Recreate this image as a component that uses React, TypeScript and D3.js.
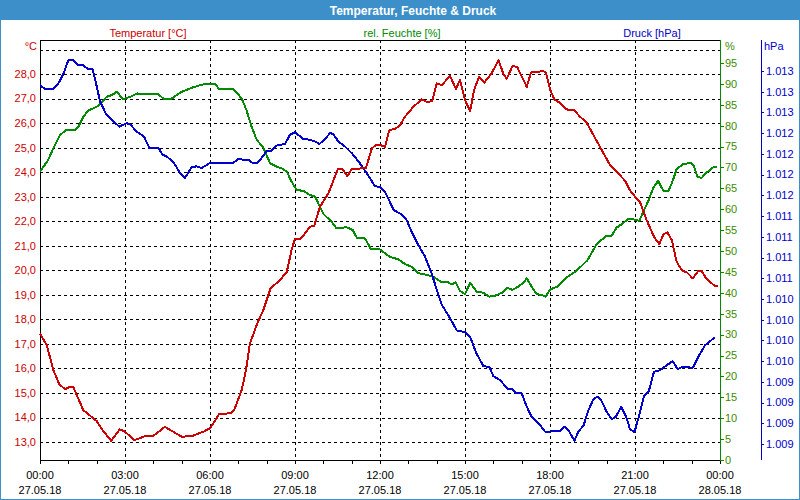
import React, { useEffect, useRef } from 'react';
import * as d3 from 'd3';

const width = 800;
const height = 500;

// Temperatur [°C]
const tempHours = [0, 0.24, 0.47, 0.68, 0.88, 1.06, 1.18, 1.53, 2.0, 2.18, 2.51, 2.82, 3.0, 3.33, 3.71, 4.0, 4.41, 5.0, 5.35, 5.76, 6.0, 6.33, 6.71, 6.85, 7.12, 7.27, 7.41, 7.67, 7.88, 8.14, 8.47, 8.71, 8.88, 9.0, 9.2, 9.53, 9.68, 9.88, 10.18, 10.51, 10.68, 10.85, 11.0, 11.5, 11.71, 11.86, 12.0, 12.18, 12.33, 12.53, 12.71, 12.88, 13.18, 13.47, 13.67, 13.85, 14.0, 14.18, 14.47, 14.68, 14.82, 15.0, 15.18, 15.32, 15.5, 15.68, 15.94, 16.18, 16.35, 16.47, 16.68, 16.85, 17.18, 17.33, 17.76, 17.86, 18.0, 18.15, 18.35, 18.59, 18.85, 19.06, 19.27, 19.47, 19.76, 20.12, 20.41, 20.65, 20.82, 21.0, 21.18, 21.41, 21.67, 21.86, 22.0, 22.14, 22.3, 22.47, 22.65, 22.85, 23.04, 23.24, 23.35, 23.51, 23.82, 23.94];
const tempValues = [17.43, 16.95, 15.94, 15.36, 15.16, 15.25, 15.23, 14.3, 13.86, 13.53, 13.05, 13.52, 13.42, 13.08, 13.24, 13.26, 13.62, 13.22, 13.24, 13.42, 13.56, 14.15, 14.17, 14.3, 15.12, 15.94, 17.02, 17.84, 18.38, 19.27, 19.6, 19.94, 20.83, 21.3, 21.28, 21.78, 21.82, 22.59, 23.14, 24.12, 24.12, 23.84, 24.14, 24.16, 24.97, 25.11, 25.11, 25.04, 25.72, 25.76, 25.92, 26.26, 26.67, 26.97, 26.85, 26.91, 27.62, 27.55, 27.93, 27.39, 27.76, 26.94, 26.49, 27.35, 27.89, 27.65, 28.03, 28.57, 28.03, 27.8, 28.34, 28.27, 27.48, 28.07, 28.12, 28.06, 27.38, 26.97, 26.83, 26.56, 26.53, 26.26, 26.06, 25.65, 25.04, 24.29, 23.95, 23.65, 23.27, 23.0, 22.77, 22.05, 21.37, 21.07, 21.47, 21.55, 21.23, 20.35, 20.01, 19.9, 19.67, 19.98, 19.98, 19.67, 19.36, 19.36];

// rel. Feuchte [%]
const humHours = [0, 0.29, 0.47, 0.71, 0.92, 1.24, 1.35, 1.53, 1.7, 2.0, 2.18, 2.35, 2.53, 2.71, 2.94, 3.18, 3.43, 3.71, 4.18, 4.35, 4.65, 5.0, 5.41, 5.82, 6.18, 6.33, 6.82, 7.12, 7.29, 7.47, 7.65, 7.88, 8.12, 8.35, 8.53, 8.71, 8.88, 9.06, 9.29, 9.53, 9.71, 10.0, 10.29, 10.47, 10.82, 11.04, 11.18, 11.47, 11.67, 12.0, 12.35, 12.65, 12.88, 13.12, 13.35, 13.59, 13.88, 14.14, 14.35, 14.53, 14.67, 14.82, 15.0, 15.18, 15.41, 15.65, 15.86, 16.02, 16.3, 16.49, 16.67, 16.88, 17.06, 17.18, 17.35, 17.53, 17.71, 17.85, 18.0, 18.29, 18.59, 18.94, 19.32, 19.65, 20.0, 20.18, 20.35, 20.57, 20.76, 20.94, 21.15, 21.29, 21.47, 21.65, 21.82, 22.0, 22.18, 22.3, 22.47, 22.7, 22.97, 23.06, 23.2, 23.35, 23.53, 23.76, 23.88];
const humValues = [69.0, 71.8, 74.6, 77.8, 78.9, 78.9, 79.7, 82.1, 83.6, 84.5, 85.5, 86.9, 87.3, 88.1, 86.3, 86.9, 87.7, 87.6, 87.5, 86.5, 86.5, 88.1, 89.2, 90.0, 90.0, 88.7, 88.8, 86.5, 83.7, 79.7, 76.6, 74.8, 71.0, 70.2, 69.8, 69.0, 66.6, 64.6, 64.4, 63.4, 63.0, 58.9, 57.0, 55.4, 55.7, 55.0, 53.2, 53.0, 50.6, 50.4, 48.6, 48.0, 46.9, 46.2, 44.7, 44.4, 43.9, 42.7, 42.7, 42.0, 42.5, 40.5, 39.7, 42.4, 40.3, 40.0, 39.1, 39.2, 40.0, 41.2, 40.7, 41.5, 42.4, 43.5, 41.5, 39.7, 39.5, 39.1, 40.8, 41.6, 43.7, 45.3, 47.8, 51.7, 53.7, 53.7, 55.6, 56.6, 57.7, 57.6, 57.2, 59.4, 62.0, 65.2, 66.8, 64.4, 64.4, 66.2, 69.6, 70.8, 71.1, 70.6, 67.8, 67.5, 68.8, 70.0, 70.0];

// Druck [hPa]
const pressHours = [0, 0.18, 0.47, 0.65, 0.82, 1.0, 1.18, 1.33, 1.53, 1.7, 1.86, 1.98, 2.12, 2.35, 2.59, 2.8, 3.06, 3.2, 3.41, 3.67, 3.86, 4.18, 4.33, 4.47, 4.73, 4.94, 5.12, 5.35, 5.53, 5.71, 6.0, 6.82, 7.0, 7.18, 7.35, 7.51, 7.67, 7.82, 8.02, 8.18, 8.35, 8.65, 8.82, 9.0, 9.29, 9.53, 9.71, 9.86, 10.0, 10.24, 10.35, 10.53, 10.76, 11.0, 11.24, 11.53, 11.82, 12.0, 12.18, 12.49, 12.77, 12.94, 13.12, 13.35, 13.59, 13.82, 14.06, 14.18, 14.47, 14.71, 15.0, 15.18, 15.41, 15.65, 15.86, 16.0, 16.24, 16.49, 16.67, 16.82, 17.0, 17.18, 17.35, 17.65, 17.82, 18.0, 18.35, 18.5, 18.68, 18.86, 19.0, 19.18, 19.35, 19.53, 19.67, 19.8, 20.0, 20.18, 20.33, 20.51, 20.71, 20.82, 20.98, 21.15, 21.32, 21.49, 21.67, 21.88, 22.12, 22.33, 22.51, 22.65, 23.04, 23.23, 23.47, 23.65, 23.82];
const pressValues = [1012.83, 1012.78, 1012.78, 1012.85, 1012.96, 1013.13, 1013.13, 1013.07, 1013.07, 1013.02, 1013.02, 1012.85, 1012.63, 1012.47, 1012.39, 1012.33, 1012.37, 1012.35, 1012.27, 1012.21, 1012.07, 1012.07, 1011.99, 1011.97, 1011.89, 1011.77, 1011.71, 1011.84, 1011.85, 1011.83, 1011.89, 1011.89, 1011.94, 1011.93, 1011.93, 1011.89, 1011.89, 1011.95, 1012.04, 1012.04, 1012.1, 1012.12, 1012.23, 1012.26, 1012.18, 1012.17, 1012.15, 1012.12, 1012.16, 1012.25, 1012.24, 1012.15, 1012.09, 1012.01, 1011.91, 1011.77, 1011.61, 1011.6, 1011.54, 1011.32, 1011.27, 1011.2, 1011.06, 1010.9, 1010.76, 1010.56, 1010.3, 1010.18, 1010.02, 1009.87, 1009.85, 1009.79, 1009.59, 1009.44, 1009.43, 1009.32, 1009.27, 1009.17, 1009.16, 1009.11, 1009.11, 1008.95, 1008.83, 1008.73, 1008.65, 1008.65, 1008.66, 1008.71, 1008.65, 1008.54, 1008.65, 1008.72, 1008.9, 1009.04, 1009.07, 1009.03, 1008.89, 1008.8, 1008.83, 1008.95, 1008.81, 1008.68, 1008.64, 1008.85, 1009.08, 1009.14, 1009.37, 1009.39, 1009.45, 1009.5, 1009.4, 1009.43, 1009.42, 1009.55, 1009.69, 1009.74, 1009.79];

// axes
const timeTicks = [0, 3, 6, 9, 12, 15, 18, 21, 24];
const timeLabels = ['00:00', '03:00', '06:00', '09:00', '12:00', '15:00', '18:00', '21:00', '00:00'];
const dateLabels = ['27.05.18', '27.05.18', '27.05.18', '27.05.18', '27.05.18', '27.05.18', '27.05.18', '27.05.18', '28.05.18'];
const tempTicks = [13, 14, 15, 16, 17, 18, 19, 20, 21, 22, 23, 24, 25, 26, 27, 28];
const humTicks = [0, 5, 10, 15, 20, 25, 30, 35, 40, 45, 50, 55, 60, 65, 70, 75, 80, 85, 90, 95];
const pressTicks = [1008.5, 1008.75, 1009, 1009.25, 1009.5, 1009.75, 1010, 1010.25, 1010.5, 1010.75, 1011, 1011.25, 1011.5, 1011.75, 1012, 1012.25, 1012.5, 1012.75, 1013];

const de = d3.formatLocale({ decimal: ',', thousands: '.', grouping: [3], currency: ['', ' €'] });

const RED = '#cc0000';
const GREEN = '#008a00';
const GREEN_TXT = '#3c8c00';
const BLUE = '#0000cc';
const FRAME = '#3d8fc9';
const FONT = '"Liberation Sans", Arial, sans-serif';

export default function App() {
  const ref = useRef<SVGSVGElement>(null);

  useEffect(() => {
    document.body.style.margin = '0';
    const svg = d3.select(ref.current);
    svg.selectAll('*').remove();

    const left = 40, right = 720, top = 40, bottom = 460;

    const x = d3.scaleLinear().domain([0, 24]).range([left, right]);
    const yTemp = d3.scaleLinear().domain([12.27, 29.39]).range([bottom, top]);
    const yHum = d3.scaleLinear().domain([0, 100.5]).range([bottom, top]);
    const yPress = d3.scaleLinear().domain([1008.307, 1013.374]).range([bottom, top]);

    // frame + title bar
    svg.append('rect').attr('width', width).attr('height', height).attr('fill', '#fff');
    svg.append('rect').attr('x', 0.5).attr('y', 0.5).attr('width', width - 1).attr('height', height - 1)
      .attr('fill', 'none').attr('stroke', FRAME);
    svg.append('rect').attr('width', width).attr('height', 20).attr('fill', FRAME);
    svg.append('text').attr('x', 413).attr('y', 14.5).attr('text-anchor', 'middle')
      .attr('fill', '#fff').attr('font-weight', 'bold').attr('font-size', 12)
      .text('Temperatur, Feuchte & Druck');

    // series headers
    const headers = [
      { t: 'Temperatur [°C]', x: 148, c: RED },
      { t: 'rel. Feuchte [%]', x: 402, c: GREEN },
      { t: 'Druck [hPa]', x: 652, c: BLUE },
    ];
    svg.selectAll('text.hdr').data(headers).enter().append('text')
      .attr('class', 'hdr')
      .attr('x', d => d.x).attr('y', 36.5).attr('text-anchor', 'middle')
      .attr('fill', d => d.c).attr('font-size', 11).text(d => d.t);

    svg.append('text').attr('x', 37).attr('y', 50).attr('text-anchor', 'end').attr('fill', RED).attr('font-size', 11).text('°C');
    svg.append('text').attr('x', 725).attr('y', 50).attr('fill', GREEN_TXT).attr('font-size', 11).text('%');
    svg.append('text').attr('x', 764).attr('y', 50).attr('fill', BLUE).attr('font-size', 11).text('hPa');

    // grid
    const grid = svg.append('g').attr('stroke', '#000').attr('stroke-dasharray', '3,3').attr('shape-rendering', 'crispEdges');
    grid.selectAll('line.h').data(d3.range(13, 30)).enter().append('line')
      .attr('x1', left).attr('x2', right)
      .attr('y1', d => Math.round(yTemp(d)) + 0.5).attr('y2', d => Math.round(yTemp(d)) + 0.5);
    grid.selectAll('line.v').data(timeTicks.slice(1, -1)).enter().append('line')
      .attr('y1', top).attr('y2', bottom)
      .attr('x1', d => Math.round(x(d)) + 0.5).attr('x2', d => Math.round(x(d)) + 0.5);

    // axis lines
    const axes = svg.append('g').attr('shape-rendering', 'crispEdges');
    axes.append('line').attr('x1', left).attr('x2', right).attr('y1', top + 0.5).attr('y2', top + 0.5).attr('stroke', '#000');
    axes.append('line').attr('x1', left).attr('x2', right).attr('y1', bottom + 0.5).attr('y2', bottom + 0.5).attr('stroke', '#000');
    axes.append('line').attr('x1', left + 0.5).attr('x2', left + 0.5).attr('y1', top).attr('y2', bottom + 4).attr('stroke', '#000');
    axes.append('line').attr('x1', right + 0.5).attr('x2', right + 0.5).attr('y1', top).attr('y2', bottom + 1).attr('stroke', GREEN);
    axes.append('line').attr('x1', 761.5).attr('x2', 761.5).attr('y1', top).attr('y2', bottom).attr('stroke', BLUE);

    // x axis: hourly ticks
    axes.selectAll('line.xt').data(d3.range(0, 25)).enter().append('line')
      .attr('x1', d => Math.round(x(d)) + 0.5).attr('x2', d => Math.round(x(d)) + 0.5)
      .attr('y1', bottom).attr('y2', bottom + 4).attr('stroke', '#000');
    svg.selectAll('text.xl').data(timeTicks).enter().append('text')
      .attr('x', d => x(d)).attr('y', 479).attr('text-anchor', 'middle').attr('font-size', 11)
      .text((d, i) => timeLabels[i]);
    svg.selectAll('text.xd').data(timeTicks).enter().append('text')
      .attr('x', d => x(d)).attr('y', 494).attr('text-anchor', 'middle').attr('font-size', 11)
      .text((d, i) => dateLabels[i]);

    // left temp labels
    svg.selectAll('text.tl').data(tempTicks).enter().append('text')
      .attr('x', 36).attr('y', d => yTemp(d)).attr('dy', '0.35em').attr('text-anchor', 'end')
      .attr('fill', RED).attr('font-size', 11).text(d => de.format('.1f')(d));

    // humidity axis
    axes.selectAll('line.ht').data(humTicks).enter().append('line')
      .attr('x1', right).attr('x2', right + 4)
      .attr('y1', d => Math.round(yHum(d)) + 0.5).attr('y2', d => Math.round(yHum(d)) + 0.5).attr('stroke', GREEN);
    svg.selectAll('text.hl').data(humTicks).enter().append('text')
      .attr('x', 725).attr('y', d => yHum(d)).attr('dy', '0.35em')
      .attr('fill', GREEN_TXT).attr('font-size', 11).text(d => d);

    // pressure axis
    axes.selectAll('line.pt').data(pressTicks).enter().append('line')
      .attr('x1', 761).attr('x2', 764)
      .attr('y1', d => Math.round(yPress(d)) + 0.5).attr('y2', d => Math.round(yPress(d)) + 0.5).attr('stroke', BLUE);
    svg.selectAll('text.pl').data(pressTicks).enter().append('text')
      .attr('x', 766).attr('y', d => yPress(d)).attr('dy', '0.35em')
      .attr('fill', BLUE).attr('font-size', 11).text(d => de.format(',.0f')(d));

    // lines
    const series = [
      { hours: humHours, values: humValues, y: yHum, c: GREEN },
      { hours: pressHours, values: pressValues, y: yPress, c: BLUE },
      { hours: tempHours, values: tempValues, y: yTemp, c: RED },
    ];
    series.forEach(s => {
      const line = d3.line<number>().x((d, i) => x(s.hours[i])).y(d => s.y(d));
      svg.append('path').attr('d', line(s.values)).attr('fill', 'none')
        .attr('stroke', s.c).attr('stroke-width', 2).attr('stroke-linejoin', 'round')
        .attr('shape-rendering', 'crispEdges');
    });
  }, []);

  return (
    <svg ref={ref} width={width} height={height} style={{ display: 'block', fontFamily: FONT }} />
  );
}
